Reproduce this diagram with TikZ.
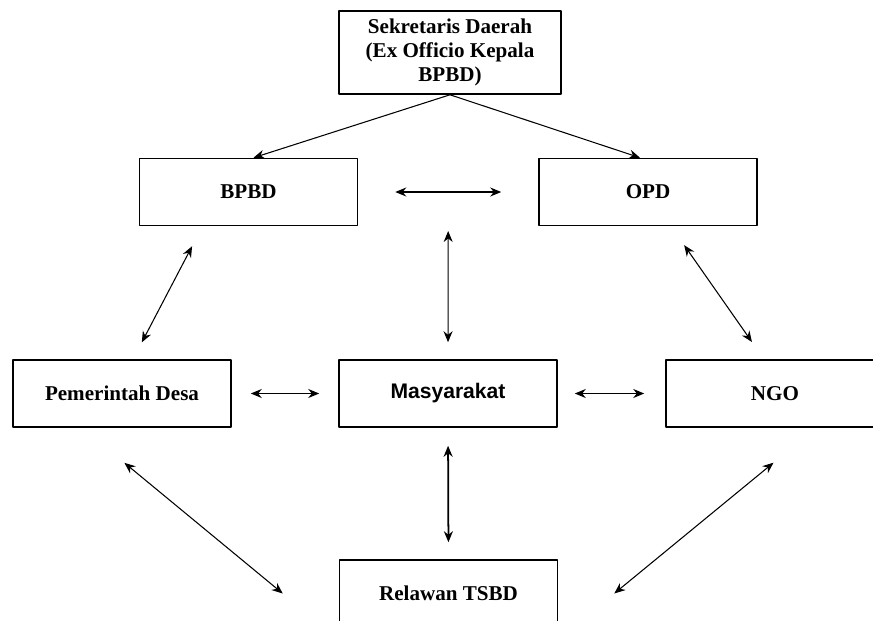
\documentclass[tikz,border=0pt]{standalone}
\usepackage{fontspec}
\setmainfont{Liberation Serif}
\setsansfont{Liberation Sans}
\usetikzlibrary{calc,arrows.meta}

\begin{document}
\begin{tikzpicture}[font=\fontsize{12}{13.6}\selectfont\bfseries, line join=round, >={Stealth[length=2.2mm,width=1.8mm]}, x=0.02cm, y=-0.02cm,
 box/.style={draw, line width=0.9pt, minimum width=4.36cm, minimum height=1.34cm, align=center, inner sep=0pt},
 arr/.style={->, line width=0.6pt},
 biarr/.style={<->, line width=0.6pt},
 thickarr/.style={<->, line width=1pt}]
 % Frame
 \useasboundingbox (0,0) rectangle (873,620);
 \clip (0,0) rectangle (873,620);
 % Boxes
 \node[box, minimum width=4.44cm, minimum height=1.66cm] (sekda) at (450,52.5) {Sekretaris Daerah\\(Ex Officio Kepala\\BPBD)};
 \node[box] (bpbd) at (248.5,192) {BPBD};
 \node[box] (opd) at (648,192) {OPD};
 \node[box] (desa) at (122,393.5) {Pemerintah Desa};
 \node[box, font=\fontsize{12}{13.6}\selectfont\sffamily\bfseries] (mas) at (448,393.5) {Masyarakat};
 \node[box] (ngo) at (775,393.5) {NGO};
 \node[box] (tsbd) at (448.5,593.5) {Relawan TSBD};
 % Top arrows
 \draw[arr] (sekda.south) -- ($(bpbd.north)+(5,0)$);
 \draw[arr] (sekda.south) -- ($(opd.north)+(-8,0)$);
 % Horizontal arrows
 \draw[biarr, shorten <=7.4mm, shorten >=7.4mm] (bpbd) -- (opd);
 \draw[thickarr, shorten <=3.8mm, shorten >=3.8mm] (desa) -- (mas);
 \draw[thickarr, shorten <=3.4mm, shorten >=4.2mm] (mas) -- (ngo);
 % Vertical arrows
 \draw[biarr, shorten <=7.8mm, shorten >=3.4mm] ($(bpbd.east)!.5!(opd.west)$) -- (mas.north);
 \draw[thickarr, shorten <=3.6mm, shorten >=3.4mm] (mas.south) -- (tsbd.north);
 % Diagonal arrows
 \draw[biarr, shorten <=4.5mm, shorten >=3.8mm] ($(bpbd.south)+(-46,0)$) -- ($(desa.north)+(11,0)$);
 \draw[biarr, shorten <=4.6mm, shorten >=4.2mm] ($(opd.south)+(23,0)$) -- ($(ngo.north)+(-11,0)$);
 \draw[biarr, shorten <=11mm] ($(desa.south)+(-40,0)$) -- ($(tsbd.west)+(-56,0)$);
 \draw[biarr, shorten <=11mm] ($(ngo.south)+(41,0)$) -- ($(tsbd.east)+(56,0)$);
\end{tikzpicture}
\end{document}
